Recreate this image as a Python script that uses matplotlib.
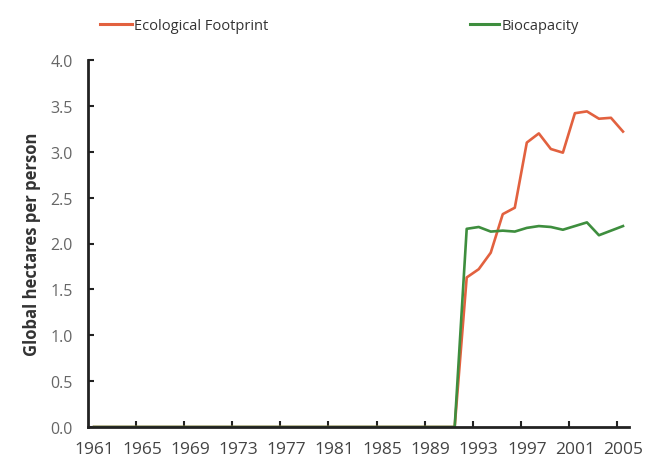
import matplotlib
matplotlib.use("Agg")
import matplotlib.pyplot as plt
from matplotlib.lines import Line2D

years = list(range(1961, 2006))
tick_labels = [str(y) for y in range(1961, 2006, 4)]

# 1961-1991 recorded as zero (no data), values from 1992 on
footprint_tail = [1.63, 1.72, 1.90, 2.32, 2.39, 3.10, 3.20, 3.03, 2.99, 3.42, 3.44, 3.36, 3.37, 3.22]
biocapacity_tail = [2.16, 2.18, 2.13, 2.14, 2.13, 2.17, 2.19, 2.18, 2.15, 2.19, 2.23, 2.09, 2.14, 2.19]
footprint = [0.0] * 31 + footprint_tail
biocapacity = [0.0] * 31 + biocapacity_tail

fp_color = "#E2613F"
bc_color = "#3E8E3E"

plt.rcParams['font.family'] = ['Open Sans', 'DejaVu Sans']

fig = plt.figure(figsize=(6.45, 4.64), dpi=100)
ax = fig.add_axes([88/645, 1-428/464, (629-88)/645, (428-61)/464])

x = list(range(len(years)))
ax.plot(x, footprint, color=fp_color, lw=1.9, zorder=2)
ax.plot(x, biocapacity, color=bc_color, lw=1.9, zorder=2)

ax.set_xlim(-0.5, len(years) - 0.5)
ax.set_ylim(0, 4.0)

# ticks at category boundaries every 4 years, labels at category centres
ax.set_xticks([i - 0.5 for i in range(4, len(years), 4)])
ax.set_xticklabels([])
ax.set_xticks(list(range(0, len(years), 4)), minor=True)
ax.set_xticklabels(tick_labels, minor=True)
ax.tick_params(axis='x', which='major', direction='in', length=4, width=1.5, color='#222222')
ax.tick_params(axis='x', which='minor', length=0, pad=10, labelsize=12.5, labelcolor='#444444')

yt = [0.0, 0.5, 1.0, 1.5, 2.0, 2.5, 3.0, 3.5, 4.0]
ax.set_yticks(yt)
ax.set_yticklabels([f"{v:.1f}" for v in yt])
ax.tick_params(axis='y', direction='in', length=4, width=1.5, color='#222222',
               labelsize=11.5, labelcolor='#666666', pad=11)

for s in ['top', 'right']:
    ax.spines[s].set_visible(False)
for s in ['left', 'bottom']:
    ax.spines[s].set_linewidth(2.0)
    ax.spines[s].set_color('#222222')

ax.set_ylabel("Global hectares per person", fontsize=12, fontweight='bold',
              color='#333333', labelpad=7)

h1 = Line2D([], [], color=fp_color, lw=2.2)
h2 = Line2D([], [], color=bc_color, lw=2.2)
fig.legend(handles=[h1], labels=["Ecological Footprint"], loc='center left',
           bbox_to_anchor=(100/645, 1-27/464), frameon=False, fontsize=10.5,
           handlelength=2.2, handletextpad=0.15, borderpad=0, borderaxespad=0,
           labelcolor='#333333')
fig.legend(handles=[h2], labels=["Biocapacity"], loc='center left',
           bbox_to_anchor=(470/645, 1-27/464), frameon=False, fontsize=10.5,
           handlelength=2.0, handletextpad=0.15, borderpad=0, borderaxespad=0,
           labelcolor='#333333')

fig.savefig("out.png", dpi=100)
